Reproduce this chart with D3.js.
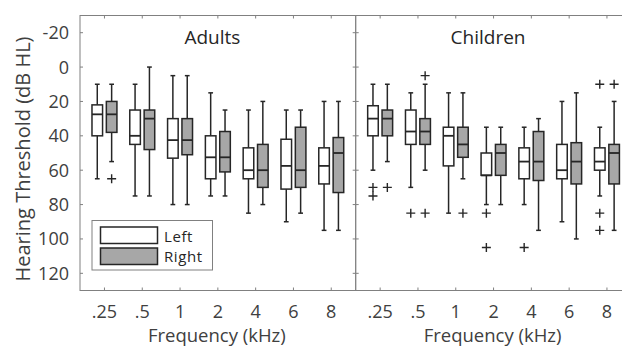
<!DOCTYPE html>
<html>
<head>
<meta charset="utf-8">
<script src="https://cdn.jsdelivr.net/npm/d3@7"></script>
<style>
  body { margin: 0; background: #fff; }
  text { font-family: "Open Sans", sans-serif; fill: #404040; }
</style>
</head>
<body>
<svg id="chart" width="622" height="348"></svg>
<script>
// frequency categories (kHz)
var freqs = [".25", ".5", "1", "2", "4", "6", "8"]
var yTicks = [-20, 0, 20, 40, 60, 80, 100, 120]

// box stats per frequency: [whiskerTop, q1, median, q3, whiskerBottom] in dB HL
var adultsLeft = [
    [10, 22, 27.5, 40, 65], [10, 25, 40, 45, 75], [5, 30, 42.5, 53, 80],
    [15, 40, 52.5, 65, 75], [25, 47, 60, 65, 85], [25, 42, 57.5, 71, 90],
    [20, 47, 57.5, 68, 95]
]
var adultsRight = [
    [10, 20, 27.5, 38, 55], [0, 25, 30, 48, 75], [5, 30, 42.5, 51, 80],
    [25, 37.5, 52.5, 61, 75], [20, 45, 60, 70, 80], [25, 35, 60, 70, 85],
    [20, 41, 50, 73, 95]
]
var childrenLeft = [
    [10, 22.5, 30, 40, 60], [15, 25, 37.5, 45, 70], [15, 35, 40, 57.5, 85],
    [35, 50, 63, 63, 80], [35, 47, 55, 65, 80], [20, 45, 60, 65, 90],
    [35, 47, 55, 60, 75]
]
var childrenRight = [
    [10, 25, 30, 40, 55], [10, 30, 37.5, 45, 60], [15, 35, 45, 52.5, 65],
    [35, 45, 50, 63, 80], [30, 37.5, 55, 66, 95], [15, 44, 55, 68, 100],
    [20, 45, 50, 68, 95]
]
// outliers per frequency
var adultsLeftOut = [[], [], [], [], [], [], []]
var adultsRightOut = [[65], [], [], [], [], [], []]
var childrenLeftOut = [[70, 75], [85], [], [85, 105], [105], [], [10, 85, 95]]
var childrenRightOut = [[70], [5, 85], [85], [], [], [], [10]]

var panels = [
    { title: "Adults", left: adultsLeft, right: adultsRight, leftOut: adultsLeftOut, rightOut: adultsRightOut },
    { title: "Children", left: childrenLeft, right: childrenRight, leftOut: childrenLeftOut, rightOut: childrenRightOut }
]

var svg = d3.select("#chart")
var top_y = 15.5, bottom_y = 290.5
var panel_w = 275.7, x0 = 80
var frame_color = "#808080"
var box_stroke = "#262626"
var gray_fill = "#a7a7a7"

var y = d3.scaleLinear().domain([-30, 130]).range([top_y, bottom_y])

panels.forEach(function (p, pi) {
    var px = x0 + pi * panel_w
    var x = d3.scalePoint().domain(freqs).range([px, px + panel_w]).padding(0.647)
    var step = x.step()
    var off = step * 0.19, bw = step * 0.28, cap = bw * 0.45

    var g = svg.append("g")

    // frame
    g.append("rect")
        .attr("x", px).attr("y", top_y)
        .attr("width", panel_w).attr("height", bottom_y - top_y)
        .attr("fill", "none").attr("stroke", frame_color)

    // inward ticks
    freqs.forEach(function (f) {
        g.append("line").attr("x1", x(f)).attr("x2", x(f))
            .attr("y1", bottom_y).attr("y2", bottom_y - 3).attr("stroke", frame_color)
        g.append("line").attr("x1", x(f)).attr("x2", x(f))
            .attr("y1", top_y).attr("y2", top_y + 3).attr("stroke", frame_color)
        g.append("text").attr("x", x(f)).attr("y", 318)
            .attr("text-anchor", "middle").style("font-size", "18px").text(f)
    })
    yTicks.forEach(function (t) {
        g.append("line").attr("x1", px).attr("x2", px + 3)
            .attr("y1", y(t)).attr("y2", y(t)).attr("stroke", frame_color)
        g.append("line").attr("x1", px + panel_w).attr("x2", px + panel_w - 3)
            .attr("y1", y(t)).attr("y2", y(t)).attr("stroke", frame_color)
    })

    g.append("text").attr("x", px + panel_w / 2 - 5.5).attr("y", 44)
        .attr("text-anchor", "middle").style("font-size", "19px").style("fill", "#262626")
        .text(p.title)

    g.append("text").attr("x", px + panel_w / 2 - 1).attr("y", 342)
        .attr("text-anchor", "middle").style("font-size", "18.5px").text("Frequency (kHz)")

    function drawBoxes(stats, outs, dx, fill) {
        stats.forEach(function (s, i) {
            var cx = x(freqs[i]) + dx
            var b = g.append("g")
            b.append("line").attr("x1", cx).attr("x2", cx)
                .attr("y1", y(s[0])).attr("y2", y(s[1]))
                .attr("stroke", box_stroke).attr("stroke-width", 1.5)
            b.append("line").attr("x1", cx).attr("x2", cx)
                .attr("y1", y(s[3])).attr("y2", y(s[4]))
                .attr("stroke", box_stroke).attr("stroke-width", 1.5)
            b.append("line").attr("x1", cx - cap / 2).attr("x2", cx + cap / 2)
                .attr("y1", y(s[0])).attr("y2", y(s[0]))
                .attr("stroke", box_stroke).attr("stroke-width", 1.5)
            b.append("line").attr("x1", cx - cap / 2).attr("x2", cx + cap / 2)
                .attr("y1", y(s[4])).attr("y2", y(s[4]))
                .attr("stroke", box_stroke).attr("stroke-width", 1.5)
            b.append("rect").attr("x", cx - bw / 2).attr("y", y(s[1]))
                .attr("width", bw).attr("height", y(s[3]) - y(s[1]))
                .attr("fill", fill).attr("stroke", box_stroke).attr("stroke-width", 1.5)
            b.append("line").attr("x1", cx - bw / 2).attr("x2", cx + bw / 2)
                .attr("y1", y(s[2])).attr("y2", y(s[2]))
                .attr("stroke", box_stroke).attr("stroke-width", 1.8)
            outs[i].forEach(function (v) {
                var r = 4.5
                b.append("path")
                    .attr("d", "M" + (cx - r) + "," + y(v) + "H" + (cx + r) +
                        "M" + cx + "," + (y(v) - r) + "V" + (y(v) + r))
                    .attr("stroke", box_stroke).attr("stroke-width", 1.4)
            })
        })
    }
    drawBoxes(p.left, p.leftOut, -off, "#fff")
    drawBoxes(p.right, p.rightOut, off, gray_fill)
})

// y axis labels
yTicks.forEach(function (t) {
    svg.append("text").attr("x", 69).attr("y", y(t)).attr("dy", "0.36em")
        .attr("text-anchor", "end").style("font-size", "18px").text(t)
})
svg.append("text")
    .attr("transform", "translate(29.5,159) rotate(-90)")
    .attr("text-anchor", "middle").style("font-size", "20px")
    .text("Hearing Threshold (dB HL)")

// legend
var lg = svg.append("g")
lg.append("rect").attr("x", 92).attr("y", 220.5).attr("width", 120.5).attr("height", 49.5)
    .attr("fill", "#fff").attr("stroke", frame_color)
var legendItems = [{ name: "Left", fill: "#fff" }, { name: "Right", fill: gray_fill }]
legendItems.forEach(function (d, i) {
    lg.append("rect").attr("x", 100.5).attr("y", 227 + i * 21)
        .attr("width", 57).attr("height", 16.5)
        .attr("fill", d.fill).attr("stroke", box_stroke).attr("stroke-width", 1.5)
    lg.append("text").attr("x", 164).attr("y", 241.5 + i * 20.8)
        .style("font-size", "15px").style("letter-spacing", "0.6px")
        .style("fill", "#262626").text(d.name)
})
</script>
</body>
</html>
